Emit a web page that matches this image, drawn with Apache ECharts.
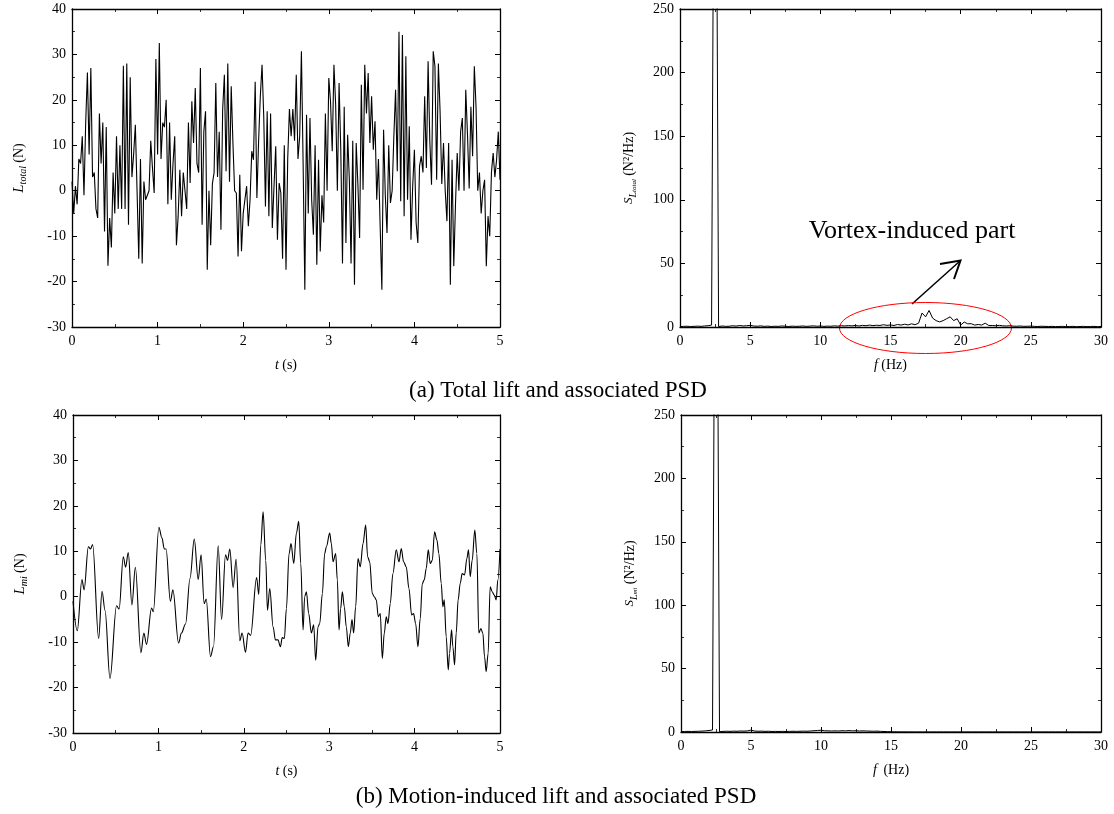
<!DOCTYPE html>
<html><head><meta charset="utf-8">
<script src="https://cdn.jsdelivr.net/npm/echarts@6/dist/echarts.min.js"></script>
<style>html,body{margin:0;padding:0;background:#fff}#c{width:1114px;height:814px}</style>
</head><body><div id="c"></div><script>
// ---------- DATA ----------
// (a) total lift, sampled every 0.02 s from 0 to 5 s
const dtTotal = 0.02;
const lTotal = [
 2,-5,1,-3,7,6,12,-1,15,26,8,27,3,4,-4,-6,17,6,15,-9,14,-16.5,-6,-12.5,4,-5,12,-4,10,-4,27.5,-4,28,-7.5,25,3,8,14.5,0,-15,7,-16,2,-2,-1,0,11,5,-0.5,29,8,32.5,7,15,14,20,-3,15,-2,6,12,-12,
 -5.6,4.6,-5.6,4,0,-4,15,1.7,19.7,10.5,22.6,6,4,27,-7.5,13,17.5,-17.4,0,-12,1.5,4,23.7,3,13,-8.6,17.8,25.5,4.3,28,2,23,10.5,0,-0.5,-14.5,3.5,-13.3,-5,-2,1,-7.8,-2,8.7,6.8,24,-1.6,11,20.8,27.7,16.4,-3.5,17.5,-5.6,17,-8.2,1,9.8,-10.8,1.7,-0.5,-15,10,
 -17.4,7,18,12,18,11,25.5,7,12,30.7,6,-21.8,16.7,-5,16,-2,-9.7,10,-16.3,6.8,-13.4,-1,-7,17,0,24.8,19.7,8.7,27.7,19,0,23.7,9,-16,18.5,-11.5,12.3,2.4,-16,11,-20.7,10.5,1.3,-10.4,23.3,0.2,27.7,17,25.9,10.5,20.8,9,15.3,-2,7,-7.8,-21.8,13.4,-1,-9.3,10,
 -2.7,0,12,22.2,4.3,35,-2.3,34.3,-5.6,29.6,-2,14.2,-10.8,1,9,-7,-11.5,5.4,7.6,4,20.8,5,28.5,11,1.3,30.7,27.4,2.4,28,17.5,1.5,10.5,0,-6.7,10.5,-20.7,6.8,-16.6,-3,8.3,0,13,16,0,22.2,12.5,0.5,18.5,7.6,27.4,18.5,0,4,-5,0,2.4,-16.6,-5.6,-10,4,8.3,3,6.8,13,2.4
];
// (b) motion-induced lift: time / value pairs
const tMi = [0,0.05,0.105,0.13,0.18,0.205,0.23,0.30,0.34,0.375,0.433,0.51,0.54,0.589,0.616,0.647,0.69,0.73,0.795,0.83,0.861,0.92,0.94,1.006,1.04,1.07,1.09,1.14,1.17,1.236,1.27,1.318,1.37,1.42,1.466,1.50,1.536,1.56,1.61,1.645,1.70,1.74,1.786,1.81,1.836,1.875,1.91,1.953,1.98,2.02,2.05,2.08,2.15,2.175,2.199,2.226,2.257,2.277,2.304,2.343,2.37,2.40,2.429,2.45,2.475,2.499,2.53,2.553,2.585,2.616,2.643,2.667,2.694,2.713,2.733,2.76,2.791,2.818,2.842,2.869,2.889,2.92,2.947,2.967,3.006,3.025,3.045,3.076,3.095,3.115,3.134,3.154,3.177,3.20,3.224,3.247,3.267,3.286,3.31,3.337,3.364,3.396,3.427,3.45,3.474,3.505,3.528,3.551,3.575,3.598,3.622,3.645,3.668,3.688,3.715,3.746,3.785,3.817,3.844,3.871,3.902,3.934,3.965,3.988,4.012,4.039,4.066,4.09,4.113,4.136,4.16,4.183,4.207,4.234,4.261,4.284,4.312,4.331,4.347,4.37,4.394,4.409,4.433,4.448,4.468,4.487,4.51,4.534,4.557,4.585,4.612,4.631,4.651,4.674,4.705,4.729,4.752,4.776,4.799,4.819,4.838,4.861,4.885,4.908,4.932,4.955,4.975,5.0];
const lMi = [-1,-7.5,3.8,1.5,11,10.5,11.5,-9.2,1.2,-3,-18,-2,-2.7,8.8,6.5,9.7,-1.8,6.5,-12.3,-8,-10.5,-2.5,-3.3,15.3,13,10.5,10.5,-1,1.5,-10.2,-8,-6,4,12.7,3.8,9.2,-1.5,-0.5,-13.2,-11,11.2,-5,9.2,8,10.5,2,8.3,-9.7,-8,-12.2,-8,-8.5,4.2,0.5,11.4,18.7,8,-3,1.8,-6.6,-9.5,-9.5,-11,-9,-9.2,-2.6,9.5,11.7,7.3,14,16.6,7.3,-7.3,0,1.1,-3.7,-8,-6.2,-14,-6.6,-5.9,0.7,9.5,11,14,11.7,7.7,9.5,3.7,-7.3,-2.6,1.1,-2.2,-6.6,-11,-8,-5,-8,-2.2,8.4,6.6,11.7,15.8,8.8,7.7,0.7,0,-0.7,-4.4,-3.7,-13.6,-8,-4.4,-5.9,-1.5,5.1,10.3,7.7,10.6,7.7,6.6,1.8,-4,-3.7,-5.9,-11,-4.8,2.9,3.7,6.2,10.3,7.3,8,14.3,12.5,9.5,2.9,-2.2,-0.7,-8.8,-16.1,-12.5,-7.3,-11,-15,-8,-0.7,2.9,5.1,4.8,8.4,10.3,4.4,8,14.7,9.5,-8,-7,-8,-13.2,-16.5,-12.5,2.2,1.1,0.4,-0.7,3.7,10.5];
// PSDs, frequency step 0.25 Hz from 0 to 30 Hz
const dfPsd = 0.25;
const psdTotal = [0.3,0.5,0.6,0.4,0.5,0.7,0.5,0.8,1.0,1.5,600,0.3,0.8,0.5,0.6,1.0,0.7,1.2,0.8,1.0,1.3,0.8,0.6,0.9,0.5,0.7,0.4,0.6,0.5,0.8,0.6,0.4,0.7,0.5,0.6,0.8,0.5,0.7,0.9,0.6,0.8,0.5,0.7,0.6,0.9,0.7,1.0,0.8,1.1,0.9,1.2,0.8,1.3,1.0,1.5,1.1,1.4,1.2,1.8,1.3,1.6,1.2,2.0,1.5,2.2,1.6,2.5,1.8,3.0,11,8,13,7,5,4,5,6.5,8,5,6.5,1.5,3.9,2.5,2.6,1.5,2,1.5,3,1.2,1.2,1.0,1.3,0.9,0.8,1.0,0.7,0.6,0.8,0.5,0.6,0.7,0.5,0.4,0.6,0.5,0.4,0.5,0.3,0.4,0.5,0.3,0.4,0.5,0.3,0.4,0.5,0.3,0.4,0.5,0.3,0.4];
const psdMi = [0.3,0.4,0.5,0.4,0.5,0.6,0.7,0.9,1.2,1.6,600,0.2,0.5,0.6,0.5,0.7,0.6,0.8,0.7,0.9,1.5,0.8,0.6,0.7,0.5,0.6,0.4,0.5,0.4,0.5,0.4,0.5,0.6,0.5,0.6,0.7,0.6,0.8,1.0,1.2,1.4,1.0,0.9,0.8,0.9,0.8,1.0,0.9,1.1,0.9,1.0,0.8,0.9,0.8,0.7,0.6,0.7,0.5,0.4,0.3,0.2,0.15,0.1,0.1,0.08,0.08,0.06,0.06,0.05,0.05,0.05,0.05,0.05,0.05,0.05,0.05,0.05,0.05,0.05,0.05,0.05,0.05,0.05,0.05,0.05,0.05,0.05,0.05,0.05,0.05,0.05,0.05,0.05,0.05,0.05,0.05,0.05,0.05,0.05,0.05,0.05,0.05,0.05,0.05,0.05,0.05,0.05,0.05,0.05,0.05,0.05,0.05,0.05,0.05,0.05,0.05,0.05,0.05,0.05,0.05,0.05];
const timeTicks = {min:0, max:5, interval:1};
const liftTicks = {min:-30, max:40, interval:10};
const freqTicks = {min:0, max:30, interval:5};
const psdTicks = {min:0, max:250, interval:50};
const captionA = '(a) Total lift and associated PSD';
const captionB = '(b) Motion-induced lift and associated PSD';
const noteText = 'Vortex-induced part';

// ---------- CHART ----------
const FONT = 'Liberation Serif';
const grids = [
  {left:72, top:9, width:428, height:318},
  {left:680, top:9, width:421, height:318},
  {left:73, top:415, width:427, height:318},
  {left:681, top:415, width:420, height:317}
];
const lineAx = {show:true, onZero:false, lineStyle:{color:'#000', width:1.3}};
const tick = {show:true, inside:true, length:5, lineStyle:{color:'#000', width:1}};
const minor = {show:true, splitNumber:2, length:3, lineStyle:{color:'#000', width:0.8}};
const lbl = {color:'#000', fontFamily:FONT, fontSize:14};
const richName = {
  i:{fontFamily:FONT, fontSize:14, fontStyle:'italic', color:'#000'},
  n:{fontFamily:FONT, fontSize:14, color:'#000'},
  b:{fontFamily:FONT, fontSize:15, fontStyle:'italic', color:'#000', lineHeight:18, verticalAlign:'middle'},
  s:{fontFamily:FONT, fontSize:10, fontStyle:'italic', color:'#000', lineHeight:9, verticalAlign:'bottom'},
  S:{fontFamily:FONT, fontSize:13, fontStyle:'italic', color:'#000', lineHeight:18, verticalAlign:'middle'},
  L:{fontFamily:FONT, fontSize:10, fontStyle:'italic', color:'#000', lineHeight:12, verticalAlign:'bottom'},
  t:{fontFamily:FONT, fontSize:7, fontStyle:'italic', color:'#000', lineHeight:7, verticalAlign:'bottom'},
  u:{fontFamily:FONT, fontSize:14, color:'#000', lineHeight:18, verticalAlign:'middle'}
};
function xAx(g, tk, name){
  return [
    Object.assign({type:'value', gridIndex:g, position:'bottom', axisLine:lineAx, axisTick:tick, minorTick:minor,
      splitLine:{show:false}, axisLabel:Object.assign({margin:7}, lbl),
      name:name, nameLocation:'middle', nameGap:31, nameTextStyle:{rich:richName}}, tk),
    Object.assign({type:'value', gridIndex:g, position:'top', axisLine:lineAx, axisTick:tick, minorTick:minor,
      splitLine:{show:false}, axisLabel:{show:false}}, tk)
  ];
}
function yAx(g, tk, name, gap){
  return [
    Object.assign({type:'value', gridIndex:g, position:'left', axisLine:lineAx, axisTick:tick, minorTick:minor,
      splitLine:{show:false}, axisLabel:Object.assign({margin:6}, lbl),
      name:name, nameLocation:'middle', nameRotate:90, nameGap:gap, nameTextStyle:{rich:richName}}, tk),
    Object.assign({type:'value', gridIndex:g, position:'right', axisLine:lineAx, axisTick:tick, minorTick:minor,
      splitLine:{show:false}, axisLabel:{show:false}}, tk)
  ];
}
const xAxis = [].concat(
  xAx(0, timeTicks, '{i|t} {n|(s)}'),
  xAx(1, freqTicks, '{i|f} {n|(Hz)}'),
  xAx(2, timeTicks, '{i|t} {n|(s)}'),
  xAx(3, freqTicks, '{i|f}  {n|(Hz)}')
);
const yAxis = [].concat(
  yAx(0, liftTicks, '{b|L}{s|total} {u|(N)}', 44),
  yAx(1, psdTicks, '{S|S}{L|L}{t|total} {u|(N²/Hz)}', 42),
  yAx(2, liftTicks, '{b|L}{s|mi} {u|(N)}', 44),
  yAx(3, psdTicks, '{S|S}{L|L}{t|mi} {u|(N²/Hz)}', 42)
);
const totalPts = lTotal.map((v,i)=>[+(i*dtTotal).toFixed(3), v]);
const miPts = lMi.map((v,i)=>[tMi[i], v]);
const psdTotalPts = psdTotal.map((v,i)=>[i*dfPsd, v]);
const psdMiPts = psdMi.map((v,i)=>[i*dfPsd, v]);
function ser(xi, yi, data, extra){
  return Object.assign({type:'line', xAxisIndex:xi, yAxisIndex:yi, data:data, showSymbol:false, symbol:'none',
    lineStyle:{color:'#000', width:1.1}, clip:true, animation:false}, extra||{});
}
const chart = echarts.init(document.getElementById('c'), null, {renderer:'canvas'});
chart.setOption({
  animation:false,
  backgroundColor:'#fff',
  grid:grids,
  xAxis:xAxis,
  yAxis:yAxis,
  series:[
    ser(0,0,totalPts),
    ser(2,2,psdTotalPts,{lineStyle:{color:'#000', width:1}}),
    ser(4,4,miPts,{smooth:0.35, smoothMonotone:'x'}),
    ser(6,6,psdMiPts,{lineStyle:{color:'#000', width:1}})
  ],
  graphic:[
    {type:'text', x:558, y:391, style:{text:captionA, font:'23px "Liberation Serif"', fill:'#000', align:'center', verticalAlign:'middle'}},
    {type:'text', x:556, y:797, style:{text:captionB, font:'23px "Liberation Serif"', fill:'#000', align:'center', verticalAlign:'middle'}},
    {type:'text', x:912, y:231, style:{text:noteText, font:'26px "Liberation Serif"', fill:'#000', align:'center', verticalAlign:'middle'}},
    {type:'line', shape:{x1:912, y1:304, x2:960, y2:261}, style:{stroke:'#000', lineWidth:1.5}},
    {type:'polyline', shape:{points:[[940,264],[960.5,260.5],[954,279]]}, style:{stroke:'#000', lineWidth:2, fill:null}},
    {type:'ellipse', shape:{cx:925.5, cy:328, rx:86, ry:25.5}, style:{stroke:'#ff0000', lineWidth:1, fill:null}}
  ]
});
</script></body></html>
